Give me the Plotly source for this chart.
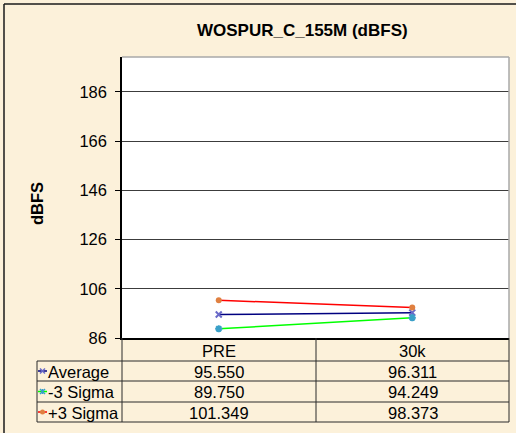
import plotly.graph_objects as go

# Measurement data
categories = ["PRE", "30k"]
series_names = ["Average", "-3 Sigma", "+3 Sigma"]
average = [95.550, 96.311]
minus_3_sigma = [89.750, 94.249]
plus_3_sigma = [101.349, 98.373]
y_ticks = [86, 106, 126, 146, 166, 186]

W, H = 516, 433
BG = "#fcf1da"
FONT = "Liberation Sans, Arial, sans-serif"


def px(x):
    return x / W


def py(y):
    return 1 - y / H


# plot area in pixels
L, R, T, B = 122, 509, 57, 338
y_min, y_max = 86, 200.2

styles = [
    dict(line="#000080", kind="x", mcolor="#6a6ac8",
         marker=dict(symbol="x-thin", size=6, color="#6a6ac8",
                     line=dict(color="#6a6ac8", width=2))),
    dict(line="#00ff00", kind="star", mcolor="#3aa0c8",
         marker=dict(symbol="asterisk", size=6, color="#3aa0c8",
                     line=dict(color="#3aa0c8", width=2))),
    dict(line="#ff0000", kind="circle", mcolor="#e08040",
         marker=dict(symbol="circle", size=6, color="#e08040",
                     line=dict(width=0))),
]
values = [average, minus_3_sigma, plus_3_sigma]

fig = go.Figure()
for name, vals, st in zip(series_names, values, styles):
    fig.add_trace(go.Scatter(
        x=categories, y=vals, name=name, mode="lines+markers",
        line=dict(color=st["line"], width=1.5),
        marker=st["marker"], showlegend=False, cliponaxis=False,
    ))

shapes = []
annotations = []


def pline(x0, y0, x1, y1, color, width=1.0):
    shapes.append(dict(type="line", xref="paper", yref="paper",
                       x0=px(x0), x1=px(x1), y0=py(y0), y1=py(y1),
                       line=dict(color=color, width=width)))


def key_marker(kind, cx, cy, color):
    r = 2.5
    if kind == "circle":
        shapes.append(dict(type="circle", xref="paper", yref="paper",
                           x0=px(cx - r), x1=px(cx + r), y0=py(cy + r), y1=py(cy - r),
                           fillcolor=color, line=dict(width=0)))
        return
    pline(cx - r, cy - r, cx + r, cy + r, color, 1.5)
    pline(cx - r, cy + r, cx + r, cy - r, color, 1.5)
    if kind == "star":
        pline(cx, cy - r, cx, cy + r, color, 1.5)


# chart frame (left and top edges)
pline(4, 4, 4, H, "#1a1a1a", 1.5)
pline(4, 4, W, 4, "#1a1a1a", 1.5)

# plot area border (top and right)
pline(L, T, R, T, "#a8a8a8", 1.5)
pline(R, T, R, B, "#a8a8a8", 1.5)

# data table grid
col_x = [37, L, 316, R]
row_y = [B, 361, 381, 402, 422]
table_color = "#2a2a2a"
for yy in row_y[1:]:
    pline(col_x[0], yy, R, yy, table_color)
for xx in col_x:
    top = row_y[1] if xx == col_x[0] else B
    pline(xx, top, xx, row_y[-1], table_color)

col_centers = [(col_x[1] + col_x[2]) / 2, (col_x[2] + col_x[3]) / 2]
tfont = dict(family=FONT, size=16.5, color="#000000")

# category header row
for cx, cat in zip(col_centers, categories):
    annotations.append(dict(xref="paper", yref="paper", x=px(cx),
                            y=py((row_y[0] + row_y[1]) / 2 + 1),
                            text=cat, showarrow=False, font=tfont,
                            xanchor="center", yanchor="middle"))

# series rows with legend keys
for r, (name, vals, st) in enumerate(zip(series_names, values, styles)):
    cy = (row_y[r + 1] + row_y[r + 2]) / 2
    pline(38, cy, 47, cy, st["line"], 1.5)
    key_marker(st["kind"], 42.5, cy, st["mcolor"])
    annotations.append(dict(xref="paper", yref="paper", x=px(46), y=py(cy + 0.5),
                            text=name, showarrow=False, font=tfont,
                            xanchor="left", yanchor="middle"))
    for cx, v in zip(col_centers, vals):
        annotations.append(dict(xref="paper", yref="paper", x=px(cx), y=py(cy + 0.5),
                                text=f"{v:.3f}", showarrow=False, font=tfont,
                                xanchor="center", yanchor="middle"))

# title and axis title
annotations.append(dict(xref="paper", yref="paper", x=px(302), y=py(31),
                        text="<b>WOSPUR_C_155M (dBFS)</b>", showarrow=False,
                        font=dict(family=FONT, size=17, color="#000000"),
                        xanchor="center", yanchor="middle"))
annotations.append(dict(xref="paper", yref="paper", x=px(37), y=py(204),
                        text="<b>dBFS</b>", showarrow=False, textangle=-90,
                        font=dict(family=FONT, size=16.5, color="#000000"),
                        xanchor="center", yanchor="middle"))

fig.update_layout(
    width=W, height=H,
    margin=dict(l=0, r=0, t=0, b=0, pad=0, autoexpand=False),
    paper_bgcolor=BG,
    plot_bgcolor="#ffffff",
    shapes=shapes,
    annotations=annotations,
    xaxis=dict(domain=[px(L), px(R)], range=[-0.5, 1.5], type="category",
               showticklabels=False, ticks="", showgrid=False, zeroline=False,
               automargin=False,
               showline=True, linecolor="#000000", linewidth=1.5),
    yaxis=dict(domain=[py(B), py(T)], range=[y_min, y_max], tickvals=y_ticks,
               ticks="outside", ticklen=5, tickcolor="#000000", tickwidth=1,
               ticklabelstandoff=5, automargin=False,
               tickfont=dict(family=FONT, size=16.5, color="#000000"),
               showgrid=True, gridcolor="#3c3c3c", gridwidth=1, zeroline=False,
               showline=True, linecolor="#000000", linewidth=1.5),
)

fig.write_html("out.html")
